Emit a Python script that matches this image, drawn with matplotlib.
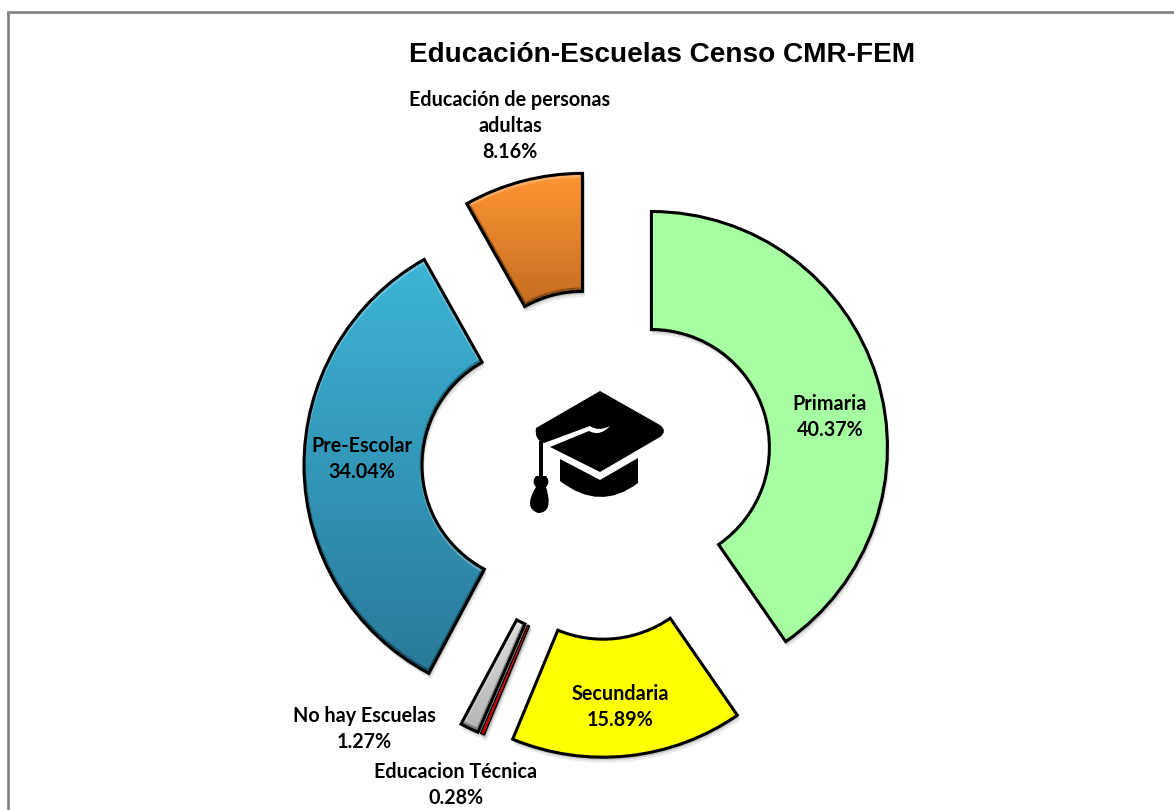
import matplotlib
matplotlib.use('Agg')
import matplotlib.pyplot as plt
import numpy as np
from matplotlib.colors import LinearSegmentedColormap
from matplotlib.patches import PathPatch, Wedge, Rectangle
from matplotlib.path import Path

categories = ['Primaria', 'Secundaria', 'Educacion Técnica', 'No hay Escuelas', 'Pre-Escolar', 'Educación de personas\nadultas']
percent = [40.37, 15.89, 0.28, 1.27, 34.04, 8.16]
top_colors = ['#a6ffa0', '#ffff00', '#e01010', '#dcdcdc', '#3cb4d6', '#ff9634']
bottom_colors = ['#a6ffa0', '#ffff00', '#c00000', '#b4b4b4', '#2a7a9a', '#c46c20']
bevel = [False, False, False, True, True, True]

W, H = 1174, 810
cx, cy, R = 597, 464.5, 236
explode = 57

fig = plt.figure(figsize=(W / 100, H / 100), dpi=100)
ax = fig.add_axes([0, 0, 1, 1])
over = fig.add_axes([0, 0, 1, 1])
over.set_xlim(0, W)
over.set_ylim(H, 0)
over.axis('off')
over.patch.set_alpha(0)

wedges, _ = ax.pie(percent, explode=[explode] * len(percent), startangle=90, counterclock=False,
                   radius=R, center=(cx, H - cy), wedgeprops=dict(width=R / 2, edgecolor='black', linewidth=2.2))
wedges[2].set_linewidth(1)

grad = np.linspace(0, 1, 256).reshape(-1, 1)
for w, c1, c2, bev in zip(wedges, top_colors, bottom_colors, bevel):
    # soft shadow below each slice
    for off, a in [(5, 0.05), (3, 0.08), (1.5, 0.12)]:
        ax.add_patch(Wedge((w.center[0] + off * 0.4, w.center[1] - off), w.r, w.theta1, w.theta2, width=w.width,
                           fc='black', ec='black', lw=1, alpha=a, zorder=0.5))
    bb = w.get_path().transformed(w.get_transform() - ax.transData).get_extents()
    cmap = LinearSegmentedColormap.from_list('g', [c1, c2])
    img = ax.imshow(grad, cmap=cmap, extent=[bb.x0, bb.x1, bb.y0, bb.y1], aspect='auto', zorder=1, origin='upper')
    img.set_clip_path(w)
    if bev:
        # light rim on the upper edges, dark rim on the lower ones
        for dy, col, a in [(-2, 'white', 0.25), (2, 'black', 0.3)]:
            rim = Wedge((w.center[0], w.center[1] + dy), w.r, w.theta1, w.theta2, width=w.width,
                        fc='none', ec=col, lw=3, alpha=a, zorder=1.5)
            ax.add_patch(rim)
            rim.set_clip_path(w)
    w.set_facecolor('none')
    w.set_zorder(2)

ax.set_xlim(0, W)
ax.set_ylim(0, H)
ax.set_aspect('auto')
ax.axis('off')

# frame, cut off by the bottom and right of the image
over.plot([8, 8, W], [H, 12, 12], color='#868686', lw=2, solid_joinstyle='miter')

# graduation cap
cap = [(Path.MOVETO, (600, 391)), (Path.LINETO, (660, 425)), (Path.CURVE3, (668, 431)), (Path.CURVE3, (660, 437)),
       (Path.LINETO, (600, 472)), (Path.LINETO, (550, 447)), (Path.LINETO, (589, 431)),
       (Path.CURVE3, (600, 437)), (Path.CURVE3, (610, 426)), (Path.CURVE3, (598, 432)), (Path.CURVE3, (590, 426)),
       (Path.LINETO, (544, 443)), (Path.CURVE3, (534, 440)), (Path.CURVE3, (536, 428)), (Path.CLOSEPOLY, (600, 391))]
over.add_patch(PathPatch(Path([p for _, p in cap], [c for c, _ in cap]), fc='black', ec='none'))
base = [(Path.MOVETO, (560, 459)), (Path.LINETO, (600, 480)), (Path.LINETO, (638, 458)), (Path.LINETO, (638, 483)),
        (Path.CURVE3, (600, 512)), (Path.CURVE3, (560, 481)), (Path.CLOSEPOLY, (560, 459))]
over.add_patch(PathPatch(Path([p for _, p in base], [c for c, _ in base]), fc='black', ec='none'))
over.add_patch(Rectangle((539, 441), 4, 36, fc='black', ec='none'))
tassel = [(Path.MOVETO, (536, 476)), (Path.LINETO, (546, 476)), (Path.CURVE3, (551, 482)), (Path.CURVE3, (546, 487)),
          (Path.CURVE3, (554, 513)), (Path.CURVE3, (538, 513)), (Path.CURVE3, (523, 508)), (Path.CURVE3, (536, 487)),
          (Path.CURVE3, (531, 482)), (Path.CURVE3, (536, 476)), (Path.CLOSEPOLY, (536, 476))]
over.add_patch(PathPatch(Path([p for _, p in tassel], [c for c, _ in tassel]), fc='black', ec='none'))

over.text(662, 55, 'Educación-Escuelas Censo CMR-FEM', fontsize=20.2, fontweight='bold', family='Liberation Sans',
          ha='center', va='center')

label_pos = [(830, 417), (620, 707), (456, 785), (364, 729), (362, 459), (510, 126)]
for name, p, (x, y) in zip(categories, percent, label_pos):
    over.text(x, y, f'{name}\n{p:.2f}%', fontsize=14.2, fontweight='bold', family='Lato', ha='center', va='center',
              linespacing=1.4)

fig.savefig('out.png', dpi=100)
